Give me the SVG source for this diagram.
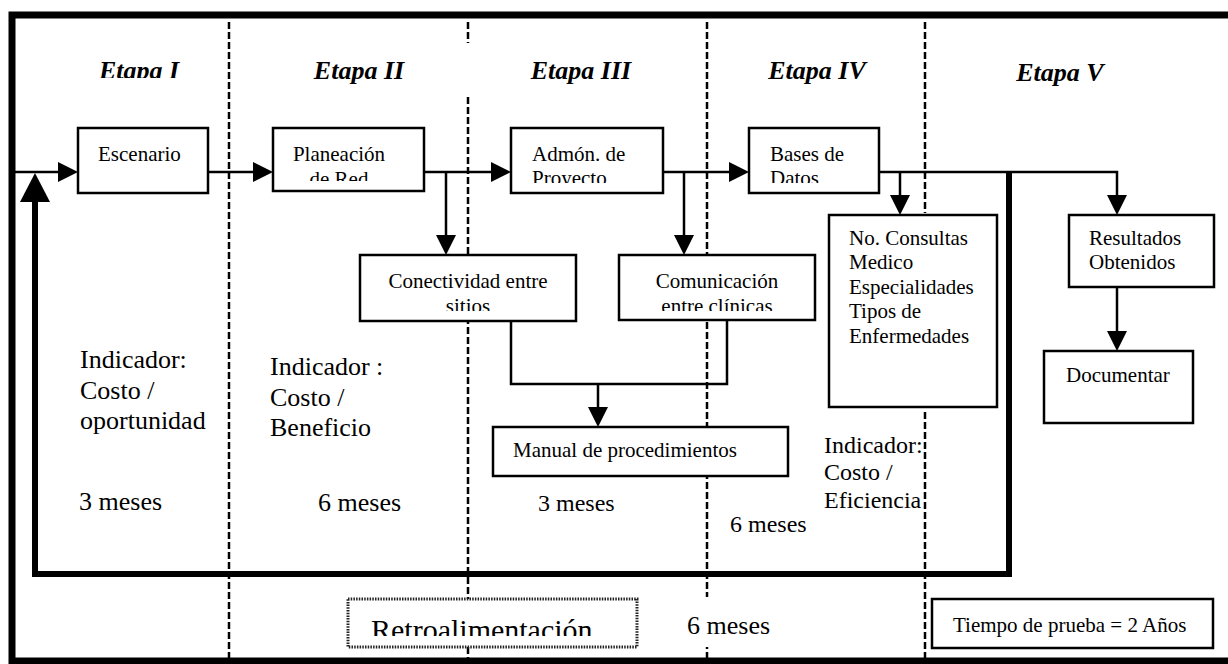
<svg xmlns="http://www.w3.org/2000/svg" width="1228" height="664" viewBox="0 0 1228 664">
  <style>
    text { font-family: "Liberation Serif", "Times New Roman", serif; fill: #000; }
    .box { fill: #fff; stroke: #000; stroke-width: 2.5; }
    .dotbox { fill: #fff; stroke: #222; stroke-width: 3; stroke-dasharray: 1.5 1.2; }
    .stage { font-size: 26px; font-weight: bold; font-style: italic; text-anchor: middle; }
    .t21 { font-size: 21px; }
    .t26 { font-size: 26px; }
    .t24 { font-size: 24px; }
    .sep { stroke: #000; stroke-width: 2.5; stroke-dasharray: 7 3; fill: none; }
    .wire { stroke: #000; stroke-width: 2.5; fill: none; }
    .thick { stroke: #000; stroke-width: 6; fill: none; }
  </style>
  <defs>
    <marker id="head" markerUnits="userSpaceOnUse" markerWidth="20" markerHeight="20" refX="0" refY="10" orient="auto">
      <path d="M0,0 L20,10 L0,20 Z" fill="#000"/>
    </marker>
    <marker id="bighead" markerUnits="userSpaceOnUse" markerWidth="30" markerHeight="30" refX="0" refY="15" orient="auto">
      <path d="M0,0 L29,15 L0,30 Z" fill="#000"/>
    </marker>
    <clipPath id="clipStageI"><rect x="80" y="40" width="120" height="38"/></clipPath>
    <clipPath id="clipPlan"><rect x="273" y="128" width="151" height="53"/></clipPath>
    <clipPath id="clipAdmon"><rect x="511" y="128" width="152" height="55"/></clipPath>
    <clipPath id="clipBases"><rect x="749" y="128" width="130" height="55"/></clipPath>
    <clipPath id="clipCon"><rect x="360" y="255" width="216" height="56"/></clipPath>
    <clipPath id="clipCom"><rect x="619" y="255" width="196" height="56"/></clipPath>
    <clipPath id="clipRetro"><rect x="348" y="599" width="289" height="37"/></clipPath>
  </defs>

  <rect x="0" y="0" width="1228" height="664" fill="#fff"/>

  <!-- outer frame, open on the right -->
  <path d="M1232,15 H12 V661 H1232" fill="none" stroke="#000" stroke-width="7"/>

  <!-- stage separators -->
  <g id="separators">
    <path class="sep" d="M229,22 V660"/>
    <path class="sep" d="M468,22 V43 M468,97 V660"/>
    <path class="sep" d="M707,22 V660"/>
    <path class="sep" d="M925,22 V213 M925,412 V660"/>
  </g>

  <!-- stage headings -->
  <g id="stages">
    <text class="stage" x="139" y="79" clip-path="url(#clipStageI)">Etapa I</text>
    <text class="stage" x="359" y="79">Etapa II</text>
    <text class="stage" x="581" y="79">Etapa III</text>
    <text class="stage" x="817" y="79">Etapa IV</text>
    <text class="stage" x="1060" y="81">Etapa V</text>
  </g>

  <!-- connectors -->
  <g id="connectors">
    <path class="wire" d="M12,172 H58" marker-end="url(#head)"/>
    <path class="wire" d="M208,172 H253" marker-end="url(#head)"/>
    <path class="wire" d="M424,172 H491" marker-end="url(#head)"/>
    <path class="wire" d="M663,172 H729" marker-end="url(#head)"/>
    <path class="wire" d="M879,172 H1117 V195" marker-end="url(#head)"/>
    <path class="wire" d="M446,172 V235" marker-end="url(#head)"/>
    <path class="wire" d="M684,172 V235" marker-end="url(#head)"/>
    <path class="wire" d="M900,172 V195" marker-end="url(#head)"/>
    <path class="wire" d="M511,321 V384 H727 V320"/>
    <path class="wire" d="M598,384 V407" marker-end="url(#head)"/>
    <path class="wire" d="M1117,287 V331" marker-end="url(#head)"/>
    <!-- feedback loop -->
    <path class="thick" d="M1009,172 V574 H35 V202" marker-end="url(#bighead)"/>
  </g>

  <g id="escenario">
    <rect class="box" x="78" y="128" width="130" height="65"/>
    <text class="t21" x="98" y="161">Escenario</text>
  </g>

  <g id="planeacion">
    <rect class="box" x="273" y="128" width="151" height="63"/>
    <g clip-path="url(#clipPlan)">
      <text class="t21" x="339" y="161" text-anchor="middle">Planeación</text>
      <text class="t21" x="339" y="186" text-anchor="middle">de Red</text>
    </g>
  </g>

  <g id="admon">
    <rect class="box" x="511" y="128" width="152" height="65"/>
    <g clip-path="url(#clipAdmon)">
      <text class="t21" x="532" y="161">Admón. de</text>
      <text class="t21" x="532" y="185">Proyecto</text>
    </g>
  </g>

  <g id="bases">
    <rect class="box" x="749" y="128" width="130" height="65"/>
    <g clip-path="url(#clipBases)">
      <text class="t21" x="770" y="161">Bases de</text>
      <text class="t21" x="770" y="185">Datos</text>
    </g>
  </g>

  <g id="conectividad">
    <rect class="box" x="360" y="255" width="216" height="66"/>
    <g clip-path="url(#clipCon)">
      <text class="t21" x="468" y="288" text-anchor="middle">Conectividad entre</text>
      <text class="t21" x="468" y="313" text-anchor="middle">sitios</text>
    </g>
  </g>

  <g id="comunicacion">
    <rect class="box" x="619" y="255" width="196" height="65"/>
    <g clip-path="url(#clipCom)">
      <text class="t21" x="717" y="288" text-anchor="middle">Comunicación</text>
      <text class="t21" x="717" y="313" text-anchor="middle">entre clínicas</text>
    </g>
  </g>

  <g id="manual">
    <rect class="box" x="493" y="427" width="295" height="49"/>
    <text class="t21" x="513" y="457">Manual de procedimientos</text>
  </g>

  <g id="consultas">
    <rect class="box" x="829" y="215" width="168" height="192"/>
    <text class="t21" x="849" y="245">No. Consultas</text>
    <text class="t21" x="849" y="269">Medico</text>
    <text class="t21" x="849" y="294">Especialidades</text>
    <text class="t21" x="849" y="318">Tipos de</text>
    <text class="t21" x="849" y="343">Enfermedades</text>
  </g>

  <g id="resultados">
    <rect class="box" x="1069" y="215" width="145" height="72"/>
    <text class="t21" x="1089" y="245">Resultados</text>
    <text class="t21" x="1089" y="269">Obtenidos</text>
  </g>

  <g id="documentar">
    <rect class="box" x="1044" y="351" width="149" height="72"/>
    <text class="t21" x="1066" y="382">Documentar</text>
  </g>

  <!-- indicators -->
  <g id="indicador-1">
    <text class="t26" x="80" y="368">Indicador:</text>
    <text class="t26" x="80" y="399">Costo /</text>
    <text class="t26" x="80" y="429">oportunidad</text>
  </g>
  <g id="indicador-2">
    <text class="t26" x="270" y="375">Indicador :</text>
    <text class="t26" x="270" y="406">Costo /</text>
    <text class="t26" x="270" y="436">Beneficio</text>
  </g>
  <g id="indicador-4">
    <text class="t24" x="824" y="453">Indicador:</text>
    <text class="t24" x="824" y="480">Costo /</text>
    <text class="t24" x="824" y="508">Eficiencia</text>
  </g>

  <!-- durations -->
  <g id="durations">
    <text class="t26" x="79" y="510">3 meses</text>
    <text class="t26" x="318" y="511">6 meses</text>
    <text class="t24" x="538" y="511">3 meses</text>
    <text class="t24" x="730" y="532">6 meses</text>
  </g>

  <g id="retroalimentacion">
    <rect class="dotbox" x="348" y="599" width="289" height="48"/>
    <text x="371" y="640" font-size="30" clip-path="url(#clipRetro)">Retroalimentación</text>
  </g>

  <g id="retro-duration">
    <rect x="682" y="597" width="95" height="50" fill="#fff"/>
    <text class="t26" x="687" y="634">6 meses</text>
  </g>

  <g id="tiempo">
    <rect class="box" x="932" y="599" width="281" height="49"/>
    <text class="t21" x="953" y="632">Tiempo de prueba = 2 Años</text>
  </g>
</svg>
